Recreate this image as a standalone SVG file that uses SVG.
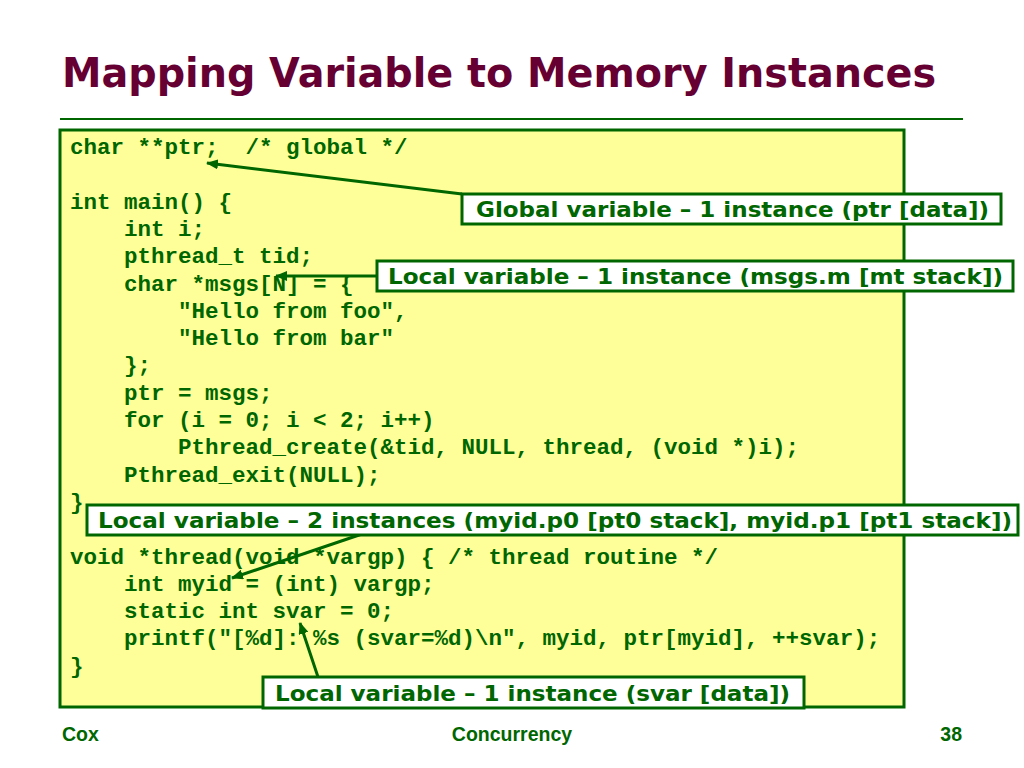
<svg xmlns="http://www.w3.org/2000/svg" width="1024" height="768" viewBox="0 0 1024 768">
<defs>
<style>
.title{font-family:"DejaVu Sans","Liberation Sans",sans-serif;font-weight:bold;font-size:40px;fill:#660033}
.code{font-family:"Liberation Mono","Courier New",monospace;font-weight:bold;font-size:22.5px;fill:#006600}
.lbl{font-family:"DejaVu Sans","Liberation Sans",sans-serif;font-weight:bold;font-size:21.5px;fill:#006600}
.lblbox{fill:#ffffff;stroke:#006600;stroke-width:3}
.foot{font-family:"Liberation Sans",Arial,sans-serif;font-weight:bold;font-size:19.5px;fill:#006600}
.conn{stroke:#006600;stroke-width:3;fill:none;marker-end:url(#ah)}
</style>
<marker id="ah" markerUnits="userSpaceOnUse" markerWidth="12" markerHeight="10" viewBox="0 0 12 10" refX="11" refY="5" orient="auto">
<path d="M0,0 L12,5 L0,10 z" fill="#006600"/>
</marker>
</defs>
<rect width="1024" height="768" fill="#ffffff"/>
<g id="title">
<text class="title" x="62" y="87" textLength="874" lengthAdjust="spacingAndGlyphs">Mapping Variable to Memory Instances</text>
<line x1="60" y1="119" x2="963" y2="119" stroke="#006600" stroke-width="2"/>
</g>
<g id="code">
<rect x="60" y="130" width="844" height="577" fill="#ffff99" stroke="#006600" stroke-width="3"/>
<text class="code" xml:space="preserve">
<tspan x="70" y="154">char **ptr;  /* global */</tspan>
<tspan x="70" y="208.6">int main() {</tspan>
<tspan x="70" y="235.9">    int i;</tspan>
<tspan x="70" y="263.2">    pthread_t tid;</tspan>
<tspan x="70" y="290.5">    char *msgs[N] = {</tspan>
<tspan x="70" y="317.8">        "Hello from foo",</tspan>
<tspan x="70" y="345.1">        "Hello from bar"</tspan>
<tspan x="70" y="372.4">    };</tspan>
<tspan x="70" y="399.7">    ptr = msgs;</tspan>
<tspan x="70" y="427">    for (i = 0; i &lt; 2; i++)</tspan>
<tspan x="70" y="454.3">        Pthread_create(&amp;tid, NULL, thread, (void *)i);</tspan>
<tspan x="70" y="481.6">    Pthread_exit(NULL);</tspan>
<tspan x="70" y="508.9">}</tspan>
<tspan x="70" y="563.5">void *thread(void *vargp) { /* thread routine */</tspan>
<tspan x="70" y="590.8">    int myid = (int) vargp;</tspan>
<tspan x="70" y="618.1">    static int svar = 0;</tspan>
<tspan x="70" y="645.4">    printf("[%d]: %s (svar=%d)\n", myid, ptr[myid], ++svar);</tspan>
<tspan x="70" y="672.7">}</tspan>
</text>
</g>
<g id="connectors">
<line class="conn" x1="462" y1="194" x2="207" y2="163"/>
<line class="conn" x1="377" y1="276" x2="276" y2="276"/>
<line class="conn" x1="362" y1="534" x2="232" y2="578"/>
<line class="conn" x1="318" y1="677" x2="300" y2="623"/>
</g>
<g id="label-global">
<rect class="lblbox" x="462" y="194" width="539" height="30"/>
<text class="lbl" x="476" y="216.5" textLength="513" lengthAdjust="spacingAndGlyphs">Global variable – 1 instance (ptr [data])</text>
</g>
<g id="label-msgs">
<rect class="lblbox" x="377" y="261" width="636" height="30"/>
<text class="lbl" x="388" y="283.5" textLength="615" lengthAdjust="spacingAndGlyphs">Local variable – 1 instance (msgs.m [mt stack])</text>
</g>
<g id="label-myid">
<rect class="lblbox" x="87" y="505" width="931" height="30"/>
<text class="lbl" x="98" y="527.5" textLength="914" lengthAdjust="spacingAndGlyphs">Local variable – 2 instances (myid.p0 [pt0 stack], myid.p1 [pt1 stack])</text>
</g>
<g id="label-svar">
<rect class="lblbox" x="263" y="677" width="541" height="31"/>
<text class="lbl" x="275" y="700.5" textLength="515" lengthAdjust="spacingAndGlyphs">Local variable – 1 instance (svar [data])</text>
</g>
<g id="footer">
<text class="foot" x="62" y="741">Cox</text>
<text class="foot" x="512" y="741" text-anchor="middle">Concurrency</text>
<text class="foot" x="962" y="741" text-anchor="end">38</text>
</g>
</svg>
